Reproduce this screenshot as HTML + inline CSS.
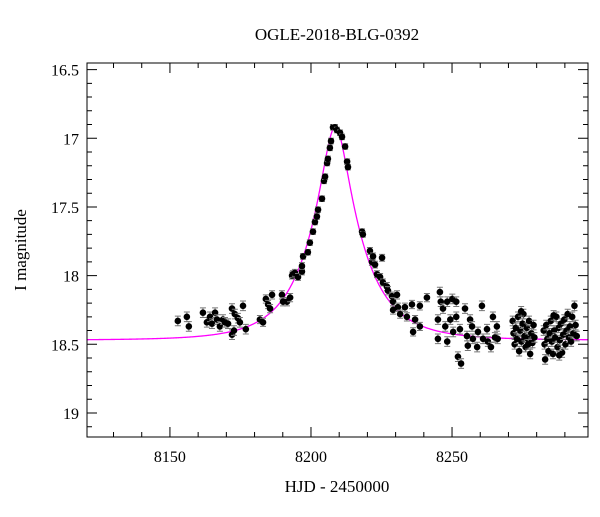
<!DOCTYPE html>
<html><head><meta charset="utf-8"><style>
html,body{margin:0;padding:0;background:#fff;}
svg text{font-family:"Liberation Serif",serif;fill:#000;}
</style></head><body>
<svg id="chart" width="600" height="512" viewBox="0 0 600 512" xmlns="http://www.w3.org/2000/svg">
<text x="337" y="40" font-size="17" text-anchor="middle">OGLE-2018-BLG-0392</text>
<text x="337" y="492" font-size="17" text-anchor="middle">HJD - 2450000</text>
<text transform="translate(26,250) rotate(-90)" font-size="17" text-anchor="middle">I magnitude</text>
<g id="model"></g>
<g id="pts"></g>
<g id="axes"></g>
</svg>
<script>
const hjd=[8152.8,8156.0,8156.7,8161.7,8163.1,8164.2,8164.9,8166.0,8166.7,8167.7,8168.8,8169.5,8170.6,8172.0,8172.0,8172.7,8173.0,8174.1,8174.8,8175.9,8176.9,8181.9,8183.0,8184.0,8184.8,8185.5,8186.2,8189.7,8190.1,8191.5,8192.6,8193.3,8193.6,8194.3,8195.4,8196.8,8196.8,8197.2,8198.9,8199.6,8200.7,8201.4,8202.1,8202.5,8203.9,8204.6,8205.0,8205.7,8206.0,8206.7,8207.1,8207.8,8208.5,8209.2,8210.3,8211.0,8212.1,8212.8,8213.1,8218.1,8218.4,8220.9,8221.6,8222.0,8222.7,8223.4,8224.5,8225.2,8225.5,8226.9,8227.3,8228.7,8229.1,8229.1,8230.5,8230.8,8231.6,8233.3,8234.0,8235.8,8236.2,8236.9,8238.6,8238.6,8241.1,
8245.7,8246.0,8245.0,8245.0,8246.8,8247.6,8248.3,8248.3,8249.4,8250.1,8250.4,8251.5,8251.5,8252.1,8253.2,8252.8,8254.6,8255.3,8255.6,8256.4,8257.1,8257.4,8258.9,8259.2,8260.6,8261.0,8262.4,8262.7,8263.8,8264.5,8265.2,8265.9,8266.2,
8271.5,8271.8,8272.2,8272.6,8273.0,8273.4,8273.8,8274.2,8274.6,8275.0,8275.3,8275.7,8276.1,8276.5,8276.9,8277.3,8277.7,8278.1,8278.5,8278.9,8279.2,8274.5,8277.0,
8282.5,8282.8,8283.0,8283.4,8283.8,8284.2,8284.6,8285.0,8285.4,8285.8,8286.2,8286.6,8287.0,8287.4,8287.8,8288.2,8288.6,8289.0,8289.4,8289.8,8290.2,8290.6,8291.0,8291.4,8291.8,8292.2,8292.6,8293.0,8293.4,8293.8,8294.2,8286.0,8288.0];
const mag=[18.33,18.30,18.37,18.27,18.34,18.30,18.35,18.27,18.32,18.37,18.32,18.34,18.35,18.24,18.43,18.40,18.28,18.31,18.34,18.22,18.39,18.32,18.34,18.17,18.21,18.24,18.14,18.14,18.19,18.19,18.16,18.00,17.99,17.98,18.01,17.97,17.93,17.86,17.83,17.76,17.68,17.61,17.57,17.52,17.44,17.31,17.28,17.18,17.15,17.07,17.02,16.92,16.92,16.94,16.96,16.99,17.06,17.17,17.21,17.68,17.70,17.82,17.90,17.86,17.92,17.99,18.01,17.87,18.05,18.08,18.11,18.15,18.19,18.25,18.14,18.23,18.28,18.23,18.30,18.21,18.41,18.32,18.22,18.37,18.16,
18.12,18.19,18.32,18.46,18.24,18.37,18.19,18.48,18.32,18.17,18.41,18.19,18.30,18.59,18.64,18.39,18.24,18.44,18.51,18.32,18.37,18.46,18.52,18.41,18.22,18.46,18.39,18.48,18.52,18.30,18.45,18.37,18.46,
18.33,18.42,18.50,18.38,18.46,18.30,18.55,18.40,18.48,18.35,18.28,18.44,18.52,18.38,18.46,18.33,18.57,18.42,18.49,18.36,18.45,18.26,18.50,
18.40,18.50,18.61,18.36,18.46,18.55,18.42,18.33,18.48,18.57,18.40,18.45,18.30,18.52,18.38,18.47,18.35,18.56,18.43,18.32,18.50,18.40,18.28,18.45,18.37,18.48,18.30,18.42,18.22,18.36,18.44,18.29,18.58];
const magErr=[0.035,0.035,0.035,0.035,0.035,0.035,0.035,0.035,0.035,0.035,0.035,0.035,0.035,0.035,0.035,0.035,0.035,0.035,0.035,0.035,0.035,0.03,0.03,0.03,0.03,0.03,0.03,0.03,0.03,0.03,0.03,0.025,0.025,0.025,0.025,0.025,0.025,0.02,0.02,0.02,0.02,0.02,0.02,0.02,0.02,0.02,0.02,0.02,0.02,0.02,0.02,0.02,0.02,0.02,0.02,0.02,0.02,0.02,0.02,0.02,0.02,0.025,0.025,0.025,0.025,0.025,0.025,0.025,0.025,0.03,0.03,0.03,0.03,0.03,0.03,0.03,0.03,0.03,0.03,0.03,0.03,0.03,0.03,0.03,0.03];
const xTicks=[8150,8200,8250];
const xTickLabels=["8150","8200","8250"];
const yTicks=[16.5,17,17.5,18,18.5,19];
const yTickLabels=["16.5","17","17.5","18","18.5","19"];
const modelT0=[8208.6], modelU0=[0.245], modelTE=[18.5], modelBase=[18.47];

const L=87,R=588,T=63,B=437;
const X0=8120.6,X1=8298.2,Y0=16.452,Y1=19.175;
const sx=t=>L+(t-X0)/(X1-X0)*(R-L);
const sy=m=>T+(m-Y0)/(Y1-Y0)*(B-T);
const NS="http://www.w3.org/2000/svg";
function mk(tag,attrs,parent){const e=document.createElementNS(NS,tag);for(const k in attrs)e.setAttribute(k,attrs[k]);parent.appendChild(e);return e;}

const gm=document.getElementById('model');
let d="";
for(let t=X0;t<=X1;t+=0.25){
  const u=Math.sqrt(modelU0[0]**2+((t-modelT0[0])/modelTE[0])**2);
  const A=(u*u+2)/(u*Math.sqrt(u*u+4));
  const m=modelBase[0]-2.5*Math.log10(A);
  d+=(d?"L":"M")+sx(t).toFixed(2)+","+sy(m).toFixed(2);
}
const mp=mk('path',{d:d,fill:'none',stroke:'#ff00ff','stroke-width':1.3},gm);



const gp=document.getElementById('pts');
for(let i=0;i<hjd.length;i++){
  const e=i<magErr.length?magErr[i]:0.035;
  const x=sx(hjd[i]),y=sy(mag[i]),y1=sy(mag[i]-e),y2=sy(mag[i]+e);
  const g=mk('g',{},gp);
  
  
  mk('path',{d:`M${x},${y1}V${y2}M${x-3},${y1}H${x+3}M${x-3},${y2}H${x+3}`,stroke:'#777','stroke-width':1,fill:'none'},g);
  mk('circle',{cx:x,cy:y,r:3.3,fill:'#000'},g);
}

const ga=document.getElementById('axes');
const fr=mk('rect',{x:L,y:T,width:R-L,height:B-T,fill:'none',stroke:'#000','stroke-width':1},ga);


let td="";
for(let t=8130;t<=X1;t+=10){
  const x=sx(t),len=(t%50===0)?10:5;
  td+=`M${x},${B}V${B-len}M${x},${T}V${T+len}`;
}
for(let k=165;k<=191;k++){
  const m=k/10;
  const y=sy(m);
  if(y<T||y>B)continue;
  const len=(k%5===0)?10:5;
  td+=`M${L},${y}H${L+len}M${R},${y}H${R-len}`;
}
mk('path',{d:td,stroke:'#000','stroke-width':1,fill:'none'},ga);
xTicks.forEach((t,i)=>{
  const tx=mk('text',{x:sx(t),y:B+25,'font-size':16,'text-anchor':'middle'},ga);
  tx.textContent=xTickLabels[i];
  
  
});
yTicks.forEach((m,i)=>{
  const tx=mk('text',{x:L-8,y:sy(m)+6,'font-size':16,'text-anchor':'end'},ga);
  tx.textContent=yTickLabels[i];
  
  
});
</script>
</body></html>
